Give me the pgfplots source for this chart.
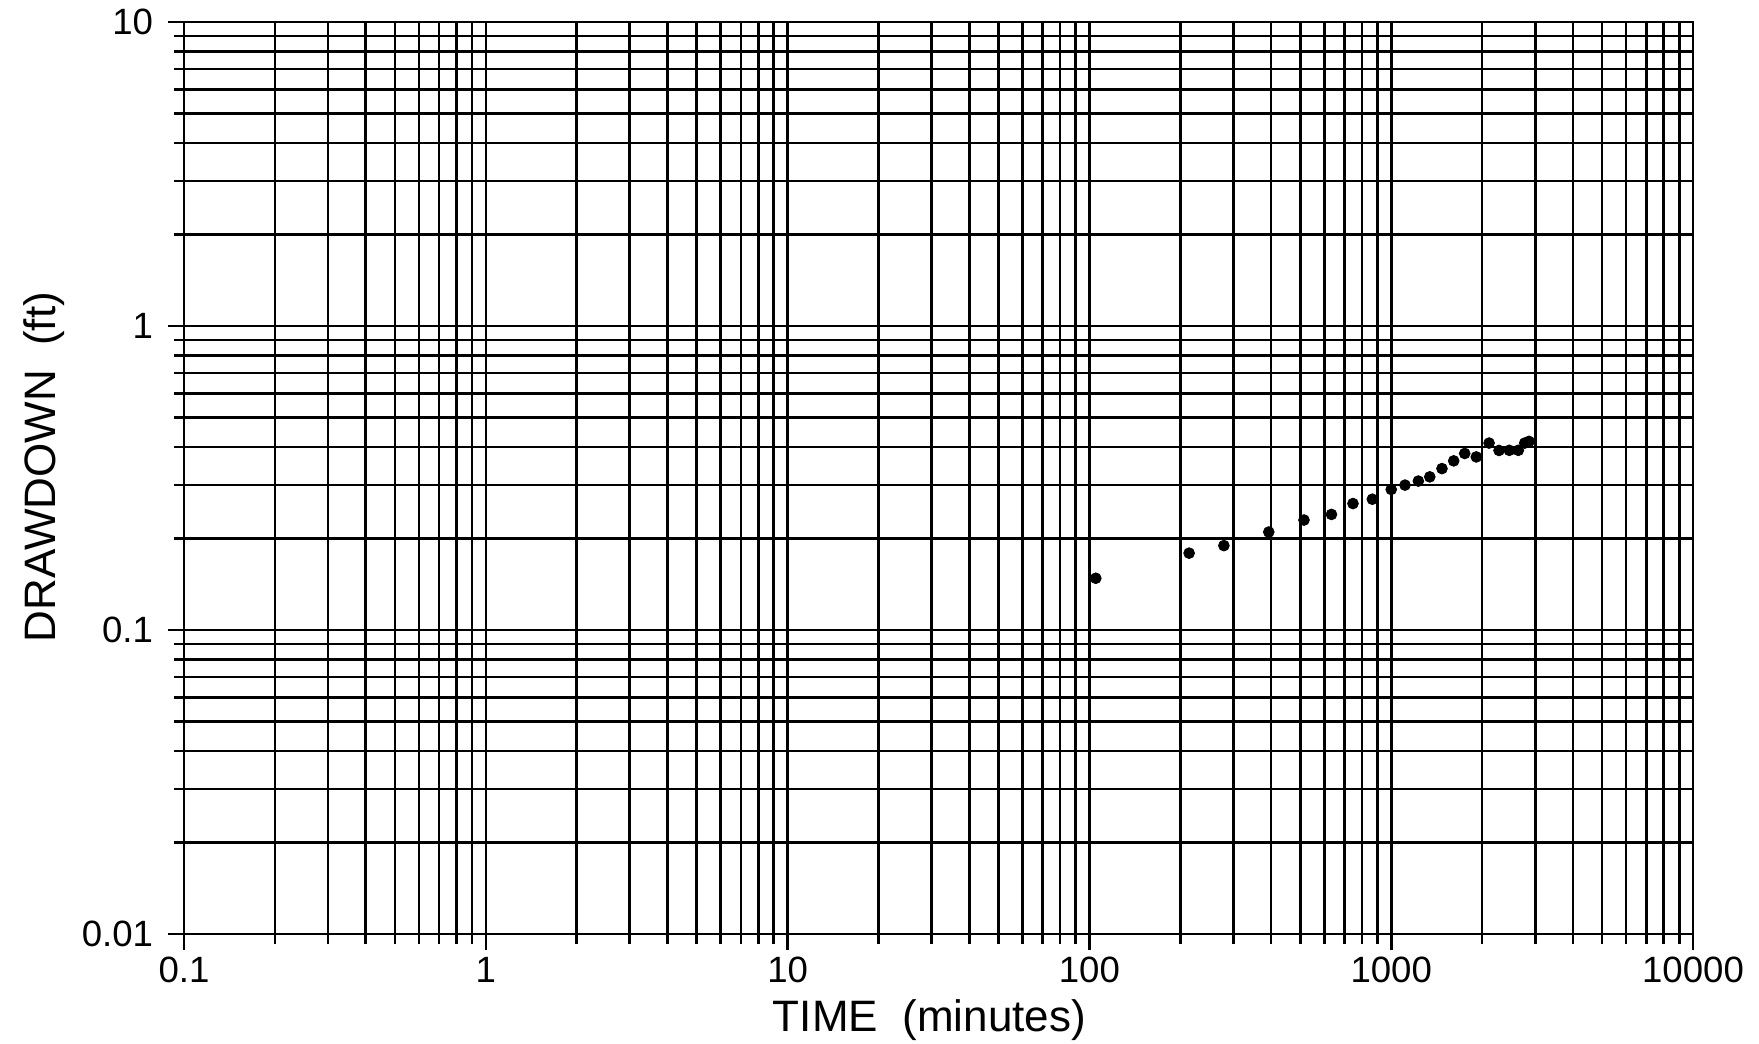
\documentclass[border=0pt]{standalone}
\usepackage{fontspec}
\setmainfont{Liberation Sans}
\usepackage{pgfplots}
\pgfplotsset{compat=1.18}
\begin{document}
\begin{tikzpicture}
\path[use as bounding box] (-92pt,-54.5pt) rectangle (787.5pt,467pt);
\begin{loglogaxis}[
  scale only axis, width=754.5pt, height=456pt,
  xmin=0.1, xmax=10000, ymin=0.01, ymax=10,
  xtick={0.1,1,10,100,1000,10000}, xticklabels={0.1,1,10,100,1000,10000},
  ytick={0.01,0.1,1,10}, yticklabels={0.01,0.1,1,10},
  grid=both,
  major grid style={black,line width=1.3pt},
  minor grid style={black,line width=1.3pt},
  axis line style={black,line width=1.4pt},
  tick align=outside, xtick pos=left, ytick pos=left,
  major tick length=8pt, minor tick length=5pt,
  tick style={black,line width=1.3pt},
  ticklabel style={font=\fontsize{18.3}{22}\selectfont},
  yticklabel style={xshift=-4pt},
  xlabel={TIME\ \ (minutes)}, ylabel={DRAWDOWN\ \ (ft)},
  label style={font=\fontsize{22}{26}\selectfont},
  xlabel style={at={([yshift=-48.5pt]axis description cs:0.494,0)},anchor=base},
  ylabel style={at={([xshift=-64pt]axis description cs:0,0.512)},anchor=base},
]
\addplot[only marks, mark=*, mark size=2.7pt, black] table {
x y
105 0.148
214 0.179
279 0.1895
393 0.210
514 0.230
634 0.240
747 0.2606
866 0.2693
1000 0.290
1111 0.2997
1230 0.309
1342 0.319
1473 0.3396
1611 0.360
1752 0.3808
1914 0.371
2110 0.412
2276 0.3897
2462 0.390
2637 0.390
2769 0.412
2862 0.4174
};
\end{loglogaxis}
\end{tikzpicture}
\end{document}
